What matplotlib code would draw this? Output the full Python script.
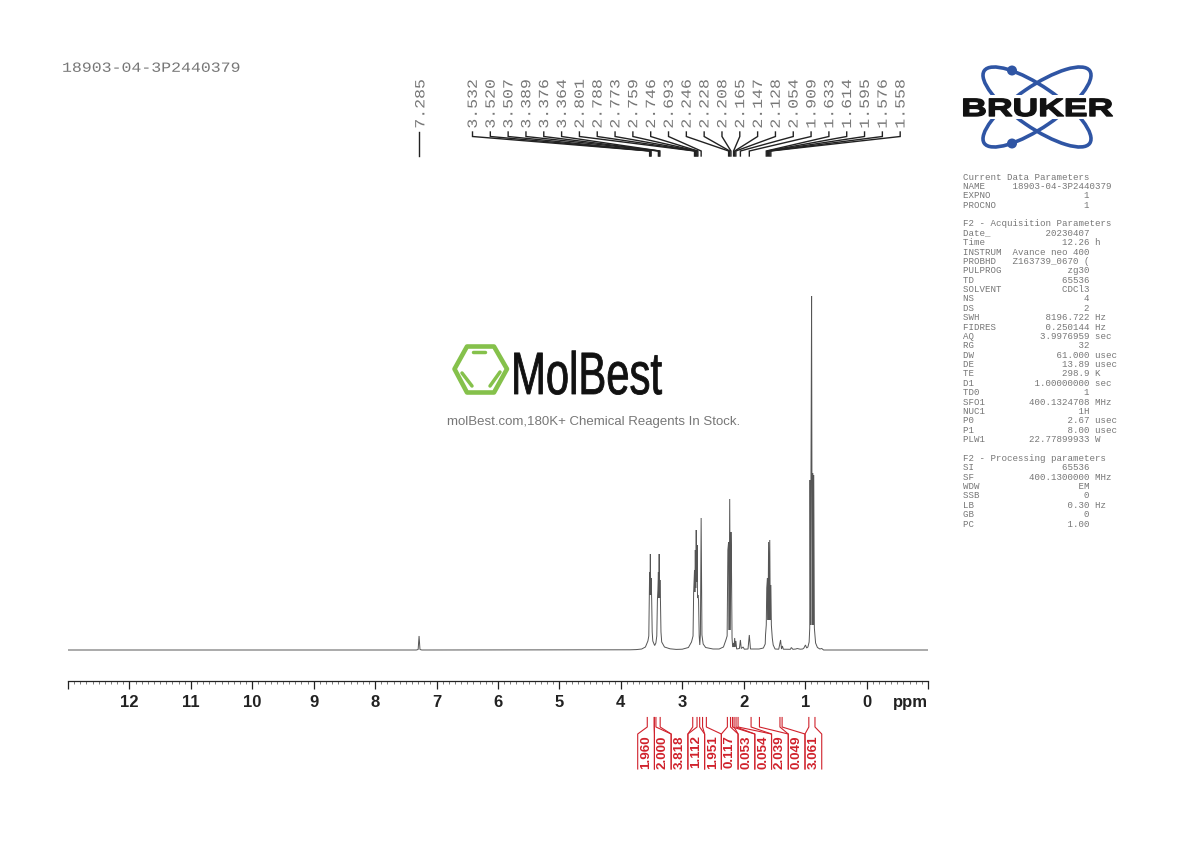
import matplotlib
matplotlib.use('Agg')
import matplotlib.pyplot as plt
from matplotlib.patches import Ellipse, Circle, Polygon, Rectangle
from matplotlib.patheffects import AbstractPathEffect
from matplotlib.transforms import Affine2D

W, H = 1190, 842

title = '18903-04-3P2440379'

# spectrum trace: ppm, height above baseline
trace_ppm = [13.0, 7.33, 7.30, 7.285, 7.27, 7.24, 3.85, 3.75, 3.66, 3.60, 3.56, 3.545,
             3.538, 3.532, 3.527, 3.520, 3.514, 3.507, 3.498, 3.49, 3.48, 3.45, 3.43, 3.415, 3.405,
             3.397, 3.389, 3.383, 3.376, 3.370, 3.364, 3.355, 3.347, 3.335, 3.29, 3.20, 3.10, 3.00,
             2.90, 2.85, 2.825, 2.815, 2.801, 2.795, 2.788, 2.781, 2.773, 2.766, 2.759, 2.752, 2.746, 2.735,
             2.725, 2.715, 2.705, 2.693, 2.68, 2.66, 2.62, 2.50, 2.40, 2.33, 2.29, 2.27,
             2.258, 2.246, 2.237, 2.228, 2.218, 2.208, 2.20, 2.19, 2.18, 2.165, 2.157, 2.147, 2.138, 2.128,
             2.115, 2.07, 2.054, 2.04, 2.01, 1.99, 1.93, 1.909, 1.89, 1.75, 1.68, 1.65,
             1.645, 1.633, 1.625, 1.614, 1.604, 1.595, 1.585, 1.576, 1.567, 1.558, 1.55, 1.535, 1.52, 1.49,
             1.43, 1.40, 1.385, 1.37, 1.355, 1.30, 1.24, 1.225, 1.20, 1.15, 1.13, 1.08,
             1.04, 1.02, 0.995, 0.975, 0.955, 0.935, 0.925, 0.92, 0.912, 0.905, 0.895, 0.885, 0.875,
             0.867, 0.86, 0.85, 0.83, 0.80, 0.76, 0.73, 0.70, -1.0]
trace_int = [0, 0, 0.5, 14, 0.5, 0, 0.2, 0.4, 1, 3, 9, 14,
             50, 78, 55, 96, 55, 72, 50, 18, 9, 4.5, 7, 14, 50,
             60, 78, 52, 96, 52, 70, 48, 18, 8, 3, 1.2, 0.6, 0.8,
             2.5, 8, 14, 58, 80, 58, 100, 62, 120, 68, 105, 52, 55, 50,
             14, 5, 16, 132, 15, 6, 2.5, 1, 1, 3, 10, 14,
             100, 108, 20, 151, 20, 118, 90, 12, 3, 7, 3, 12, 3, 9,
             1, 1.5, 10, 1.5, 3, 0.8, 1, 15, 1, 1, 2, 6,
             15, 25, 62, 72, 30, 108, 30, 110, 30, 65, 25, 12, 5, 1,
             0.8, 10, 1, 4, 0.8, 0.7, 0.7, 2.5, 0.7, 1, 1.5, 0.8,
             1, 2, 5, 2, 3, 8, 22, 170, 25, 177, 354, 25, 177,
             25, 175, 22, 7, 2.5, 1, 1.5, 0, 0]

peak_labels = [3.532, 3.520, 3.507, 3.389, 3.376, 3.364, 2.801, 2.788, 2.773, 2.759,
               2.746, 2.693, 2.246, 2.228, 2.208, 2.165, 2.147, 2.128, 2.054, 1.909,
               1.633, 1.614, 1.595, 1.576, 1.558]
lone_peak = 7.285

integral_values = ['1.960', '2.000', '3.818', '1.112', '1.951', '0.117',
                   '0.053', '0.054', '2.039', '0.049', '3.061']
integral_from = [3.57, 3.456, 3.429, 2.83, 2.717, 2.266, 2.215, 2.125, 1.88, 1.41, 0.94]
integral_to = [3.456, 3.36, 2.76, 2.67, 2.608, 2.157, 2.183, 2.092, 1.744, 1.375, 0.84]

ppm_ticks = list(range(-1, 14))
ppm_minor = [x / 10 for x in range(-10, 131)]

param_lines = [
    ('Current Data Parameters', '', ''), ('NAME', '18903-04-3P2440379', ''), ('EXPNO', '1', ''), ('PROCNO', '1', ''),
    None,
    ('F2 - Acquisition Parameters', '', ''), ('Date_', '20230407', ''), ('Time', '12.26', 'h'),
    ('INSTRUM', 'Avance neo 400', ''), ('PROBHD', 'Z163739_0670 (', ''), ('PULPROG', 'zg30', ''),
    ('TD', '65536', ''), ('SOLVENT', 'CDCl3', ''), ('NS', '4', ''), ('DS', '2', ''),
    ('SWH', '8196.722', 'Hz'), ('FIDRES', '0.250144', 'Hz'), ('AQ', '3.9976959', 'sec'), ('RG', '32', ''),
    ('DW', '61.000', 'usec'), ('DE', '13.89', 'usec'), ('TE', '298.9', 'K'), ('D1', '1.00000000', 'sec'),
    ('TD0', '1', ''), ('SFO1', '400.1324708', 'MHz'), ('NUC1', '1H', ''), ('P0', '2.67', 'usec'),
    ('P1', '8.00', 'usec'), ('PLW1', '22.77899933', 'W'),
    None,
    ('F2 - Processing parameters', '', ''), ('SI', '65536', ''), ('SF', '400.1300000', 'MHz'), ('WDW', 'EM', ''),
    ('SSB', '0', ''), ('LB', '0.30', 'Hz'), ('GB', '0', ''), ('PC', '1.00', ''),
]


class Stretch(AbstractPathEffect):
    # scales a text about an anchor given in pixels, optional outline to fatten it
    def __init__(self, sx, sy, x0, y0, lw=0):
        super().__init__()
        self.t = Affine2D().translate(-x0, -y0).scale(sx, sy).translate(x0, y0)
        self.lw = lw

    def draw_path(self, renderer, gc, tpath, affine, rgbFace=None):
        gc0 = renderer.new_gc()
        gc0.copy_properties(gc)
        gc0.set_linewidth(self.lw)
        if self.lw:
            gc0.set_foreground(rgbFace)
        renderer.draw_path(gc0, tpath, affine + self.t, rgbFace)
        gc0.restore()


fig = plt.figure(figsize=(W / 100, H / 100), dpi=100)

# spectrum axes: baseline at y=650, ppm axis at y=681
ax = fig.add_axes([68 / W, (H - 681) / H, 860 / W, 391 / H])
ax.plot(trace_ppm, trace_int, color='#555555', lw=0.7, solid_joinstyle='miter')
ax.set_xlim(13, -1)
ax.set_ylim(-31, 360)
for s in ['left', 'right', 'top']:
    ax.spines[s].set_visible(False)
ax.spines['bottom'].set_linewidth(0.9)
ax.spines['bottom'].set_color('#222222')
ax.yaxis.set_visible(False)
ax.set_xticks(ppm_ticks)
ax.set_xticklabels(['' if t in (13, -1) else str(t) for t in ppm_ticks],
                   family='Liberation Sans', fontweight='bold', fontsize=12, color='#222222')
ax.set_xticks(ppm_minor, minor=True)
ax.tick_params(axis='x', which='major', length=5.8, width=0.9, color='#222222', pad=4)
ax.tick_params(axis='x', which='minor', length=2.5, width=0.6, color='#666666')

# pixel overlay for everything around the spectrum
pix = fig.add_axes([0, 0, 1, 1], zorder=3)
pix.set_xlim(0, W)
pix.set_ylim(H, 0)
pix.axis('off')
pix.patch.set_alpha(0)


def ppm_x(p):
    return ax.transData.transform((p, 0))[0]


pix.text(910.5, 702.5, 'ppm', family='Liberation Sans', fontweight='bold', fontsize=12,
         color='#222222', ha='center', va='center')
pix.text(62, 68, title, family='Liberation Mono', fontsize=11.9, color='#777777', ha='left', va='center',
         path_effects=[Stretch(1, 0.85, 62, H - 68)])

# peak labels with their leaders
x = ppm_x(lone_peak) + 1.5
pix.text(x, 104, '%.3f' % lone_peak, rotation=90, family='Liberation Mono', fontsize=11.9,
         color='#777777', ha='center', va='center', path_effects=[Stretch(0.85, 1, x, H - 104)])
pix.plot([ppm_x(lone_peak)] * 2, [132, 156], color='#222222', lw=1)
for i, p in enumerate(peak_labels):
    x = 472.5 + i * 17.82
    pix.text(x + 0.5, 104, '%.3f' % p, rotation=90, family='Liberation Mono', fontsize=11.9,
             color='#777777', ha='center', va='center', path_effects=[Stretch(0.85, 1, x + 0.5, H - 104)])
    px = ppm_x(p)
    pix.plot([x, x, px, px], [132, 136.5, 151, 156], color='#222222', lw=1, solid_joinstyle='miter')

# integrals under the axis
for i, val in enumerate(integral_values):
    left = 637.7 + i * 16.73
    right = left + 16.73
    x0, x1 = ppm_x(integral_from[i]), ppm_x(integral_to[i])
    pix.plot([left, left, x0, x0], [769, 734, 727, 717.5], color='#d0222c', lw=0.8)
    pix.plot([right, right, x1, x1], [769, 734, 727, 717.5], color='#d0222c', lw=0.8)
    pix.text((left + right) / 2, 752, val, rotation=90, family='Liberation Sans', fontweight='bold', fontsize=9.6,
             color='#d0222c', ha='center', va='center')

# acquisition parameters
for i, row in enumerate(param_lines):
    if row is None:
        continue
    key, val, unit = row
    if val:
        width = 27 if key == 'NAME' else 23
        s = key.ljust(8) + val.rjust(width - 8)
        if unit:
            s += ' ' + unit
    else:
        s = key
    pix.text(963, 177 + i * 9.38, s, family='Liberation Mono', fontsize=6.55, color='#777777',
             ha='left', va='center')

# Bruker logo
blue = '#2f55a4'
pix.add_patch(Ellipse((1037, 107), 128, 41, angle=34.5, fill=False, ec=blue, lw=2.6))
pix.add_patch(Ellipse((1037, 107), 128, 41, angle=-34.5, fill=False, ec=blue, lw=2.6))
pix.add_patch(Rectangle((950, 95), 172, 24, fc='white', ec='none'))
pix.add_patch(Circle((1012, 70.5), 5, fc=blue, ec='none'))
pix.add_patch(Circle((1012, 143.5), 5, fc=blue, ec='none'))
pix.text(1037, 116, 'BRUKER', family='Liberation Sans', fontweight='bold', fontsize=18, color='#111111',
         ha='center', va='baseline', path_effects=[Stretch(1.42, 1.0, 1037, H - 116, lw=1.0)])

# MolBest watermark
green = '#85c14b'
pix.add_patch(Polygon([(454.5, 369), (467, 346.5), (494, 346.5), (507, 369), (494, 392.5), (467, 392.5)],
                      closed=True, fill=False, ec=green, lw=3.3, joinstyle='round'))
pix.plot([473, 485], [352, 352], color=green, lw=2.5, solid_capstyle='round')
pix.plot([462, 472], [373, 386], color=green, lw=2.5, solid_capstyle='round')
pix.plot([500, 490], [372, 386], color=green, lw=2.5, solid_capstyle='round')
pix.text(586.5, 394, 'MolBest', family='Liberation Sans', fontsize=43, color='#111111',
         ha='center', va='baseline', path_effects=[Stretch(0.70, 1.0, 586.5, H - 394, lw=0.6)])
pix.text(594, 421.5, 'molBest.com,180K+ Chemical Reagents In Stock.', family='Liberation Sans', fontsize=9.5,
         color='#777777', ha='center', va='center')

fig.savefig('out.png', dpi=100)
